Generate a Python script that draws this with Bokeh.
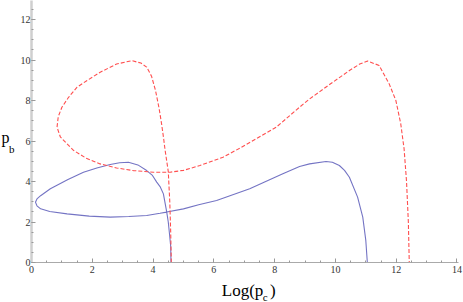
from bokeh.plotting import figure
from bokeh.models import Range1d, SingleIntervalTicker, Label
from bokeh.embed import file_html
from bokeh.resources import INLINE

# Solid blue curve
blue_x = [4.59, 4.58, 4.54, 4.50, 4.45, 4.34, 4.23, 4.12, 3.98, 3.79, 3.50, 3.19, 2.90, 2.59, 2.15,
          1.71, 1.20, 0.62, 0.30, 0.18, 0.13, 0.18, 0.30, 0.60, 1.17, 1.90, 2.59, 3.20, 3.79, 4.23,
          4.45, 5.00, 5.50, 6.09, 7.18, 8.27, 8.82, 9.15, 9.69, 9.90, 10.13, 10.30, 10.46, 10.73,
          10.90, 11.00, 11.05]
blue_y = [0.00, 0.80, 1.42, 2.00, 2.49, 3.39, 3.75, 3.97, 4.30, 4.54, 4.82, 4.95, 4.93, 4.84, 4.67,
          4.46, 4.10, 3.64, 3.30, 3.14, 2.98, 2.80, 2.65, 2.52, 2.40, 2.29, 2.24, 2.27, 2.32, 2.43,
          2.49, 2.65, 2.85, 3.06, 3.64, 4.38, 4.74, 4.87, 4.99, 4.95, 4.79, 4.55, 4.21, 3.23,
          2.24, 1.09, 0.00]

# Dashed red curve
red_x = [4.60, 4.58, 4.55, 4.50, 4.45, 4.39, 4.35, 4.28, 4.20, 4.08, 3.95, 3.79, 3.60, 3.30, 2.80,
         2.26, 1.83, 1.50, 1.22, 1.00, 0.88, 0.84, 0.95, 1.28, 1.39, 1.80, 2.26, 2.80, 3.35, 4.01,
         4.56, 5.00, 5.54, 6.30, 6.91, 8.05, 8.82, 9.15, 9.91, 10.46, 10.80, 11.06, 11.44, 11.77,
         11.99, 12.15, 12.26, 12.34, 12.40, 12.43]
red_y = [0.00, 1.50, 3.00, 4.50, 5.00, 5.61, 6.10, 6.85, 7.60, 8.50, 9.20, 9.65, 9.85, 9.97, 9.80,
         9.40, 8.99, 8.66, 8.16, 7.67, 7.20, 6.68, 6.20, 5.69, 5.53, 5.15, 4.87, 4.67, 4.54, 4.46,
         4.46, 4.55, 4.79, 5.20, 5.69, 6.68, 7.67, 8.08, 8.90, 9.48, 9.80, 9.95, 9.73, 8.82,
         8.00, 6.85, 5.61, 4.00, 2.00, 0.00]

x_tick_interval = 2
y_tick_interval = 2
x_title = "Log(p\u2009\u2009)"
x_title_sub = "c"
y_title = "p"
y_title_sub = "b"

SERIF = "'Liberation Serif', 'Times New Roman', serif"

p = figure(width=463, height=302, output_backend="svg", toolbar_location=None,
           x_range=Range1d(0, 14.05), y_range=Range1d(0, 12.94),
           min_border_left=31, min_border_right=2, min_border_top=0, min_border_bottom=40)
p.outline_line_color = None
p.grid.visible = False
p.background_fill_color = "white"
p.border_fill_color = "white"

p.xaxis.ticker = SingleIntervalTicker(interval=x_tick_interval, num_minor_ticks=4)
p.yaxis.ticker = SingleIntervalTicker(interval=y_tick_interval, num_minor_ticks=4)
for ax in (p.xaxis, p.yaxis):
    ax.major_tick_in = 4
    ax.major_tick_out = 0
    ax.minor_tick_in = 2
    ax.minor_tick_out = 0
    ax.major_tick_line_color = "#999999"
    ax.minor_tick_line_color = "#999999"
    ax.major_label_text_font = SERIF
    ax.major_label_text_font_size = "10px"
    ax.major_label_text_color = "#333333"
    ax.axis_label_standoff = 0
p.xaxis.major_label_standoff = 3
p.yaxis.major_label_standoff = 1
p.yaxis.axis_line_color = "#cfcfcf"
p.yaxis.axis_line_width = 2.5
p.xaxis.axis_line_color = "#aaaaaa"
p.xaxis.axis_line_width = 1.2

p.line(blue_x, blue_y, line_color="#7474c4", line_width=1.1)
p.line(red_x, red_y, line_color="#ff4f4f", line_width=1.1, line_dash="4 2")

def lab(x, y, t, size, side):
    p.add_layout(Label(x=x, y=y, text=t, text_font=SERIF, text_font_size=size,
                       text_color="black", text_baseline="alphabetic", text_align="left",
                       padding=0), side)

# axis titles with subscripts (placed in side panels so they are not clipped)
lab(-0.984, 6.17, y_title, "16px", "left")
lab(-0.74, 5.60, y_title_sub, "11px", "left")
lab(6.26, -1.38, x_title, "17px", "below")
lab(7.61, -1.68, x_title_sub, "11px", "right")

open("out.html", "w").write(file_html(p, INLINE))
